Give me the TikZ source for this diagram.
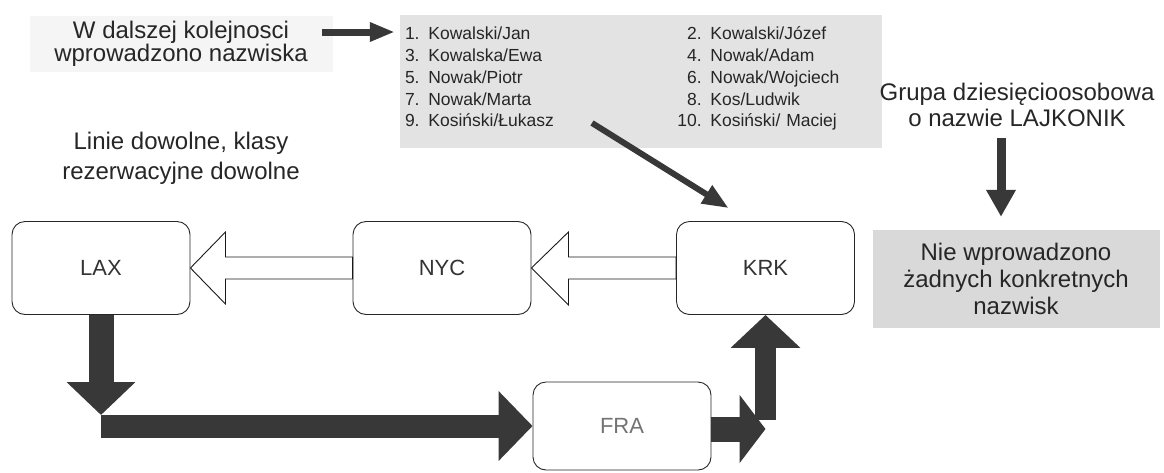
\documentclass[tikz,border=0pt]{standalone}
\usepackage{fontspec}
\setmainfont{Liberation Sans}
\usetikzlibrary{arrows.meta,calc}

\tikzset{
  city/.style={draw=black!85, line width=0.9pt, rounded corners=13pt, minimum width=178pt, minimum height=93pt, text=black!80, font=\fontsize{22}{26}\selectfont},
  note/.style={align=center, text=black!85, font=\fontsize{24}{26}\selectfont},
  graynote/.style={note, fill=black!15, inner sep=0pt},
  bigarrow/.style={draw=black!78, line width=#1},
  openarrow/.style={draw=black!90, line width=0.9pt, fill=white, line join=miter}
}

\begin{document}
\begin{tikzpicture}[x=1pt,y=-1pt]
        \useasboundingbox (0,0) rectangle (1164,472);
        % texts and gray boxes
        \node[graynote, fill=black!4, minimum width=303pt, minimum height=56pt, font=\fontsize{24}{23}\selectfont] (order) at (181,44) {W dalszej kolejnosci\\wprowadzono nazwiska};
        \node[graynote, fill=black!11, minimum width=482pt, minimum height=133pt, text width=472pt, inner xsep=5pt, align=left, font=\fontsize{17.5}{21.8}\selectfont] (names) at (641,81.5) {%
            \begin{tabular}{@{}r@{ }p{237pt}r@{ }l@{}}
            1. & Kowalski/Jan & 2. & Kowalski/Józef\\
            3. & Kowalska/Ewa & 4. & Nowak/Adam\\
            5. & Nowak/Piotr & 6. & Nowak/Wojciech\\
            7. & Nowak/Marta & 8. & Kos/Ludwik\\
            9. & Kosiński/Łukasz & 10. & Kosiński/ Maciej\\[5pt]
            \end{tabular}};
        \node[note] (group) at (1017,105) {Grupa dziesięcioosobowa\\o nazwie LAJKONIK};
        \node[graynote, minimum width=287pt, minimum height=98pt, font=\fontsize{24}{27}\selectfont] (nonames) at (1016,279) {Nie wprowadzono\\żadnych konkretnych\\nazwisk};
        \node[note, font=\fontsize{24}{30}\selectfont] (anyline) at (181,158) {Linie dowolne, klasy\\rezerwacyjne dowolne};
        % airports
        \node[city] (lax) at (101,268) {LAX};
        \node[city] (nyc) at (442,268) {NYC};
        \node[city] (krk) at (765.5,268) {KRK};
        \node[city, minimum height=88pt, text=black!55] (fra) at (622,426) {FRA};
        % open arrows
        \draw[openarrow] (lax.east) -- ++(35,-36) -- ++(0,25) -- ($(nyc.west)+(0,-11)$) -- ($(nyc.west)+(0,11)$) -- ($(lax.east)+(35,11)$) -- ++(0,25) -- cycle;
        \draw[openarrow] (nyc.east) -- ++(37,-36) -- ++(0,25) -- ($(krk.west)+(0,-11)$) -- ($(krk.west)+(0,11)$) -- ($(nyc.east)+(37,11)$) -- ++(0,26) -- cycle;
        % dark arrows
        \coordinate (orderout) at (322,32);
        \draw[bigarrow=7pt, -{Triangle[width=18pt,length=25pt]}] (orderout) -- ([xshift=-5pt]orderout -| names.west);
        \coordinate (namesout) at (592,123);
        \draw[bigarrow=6pt, -{Triangle[width=20pt,length=26pt]}] (namesout) -- ([xshift=-37pt,yshift=13pt]krk.north);
        \coordinate (groupout) at (1001,138);
        \draw[bigarrow=9pt, -{Triangle[width=28pt,length=27pt]}, shorten >=13pt] (groupout) -- (groupout |- nonames.north);
        \coordinate (bendlow) at (101,426);
        \draw[bigarrow=25pt, -{Triangle[width=67pt,length=33pt]}] (lax.south) -- ([yshift=11pt]bendlow);
        \draw[bigarrow=23pt, -{Triangle[width=68pt,length=34pt]}] (bendlow) -- (fra.west);
        \draw[bigarrow=25pt, -{Triangle[width=67pt,length=26pt]}] ([yshift=-3pt]fra.east) -- ([yshift=-3pt]fra.east -| krk.south);
        \draw[bigarrow=21pt, -{Triangle[width=68pt,length=33pt]}] ([yshift=6pt]fra.east -| krk.south) -- (krk.south);
\end{tikzpicture}
\end{document}
